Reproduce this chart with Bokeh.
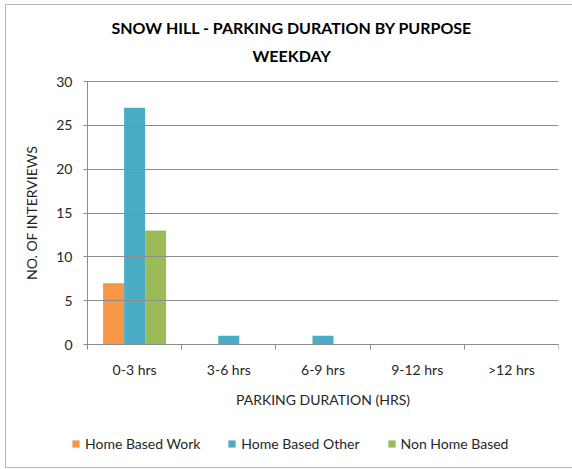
from bokeh.plotting import figure
from bokeh.models import Range1d, FixedTicker, Title, ColumnDataSource, Legend, LegendItem
from bokeh.embed import file_html
from bokeh.resources import INLINE

categories = ["0-3 hrs", "3-6 hrs", "6-9 hrs", "9-12 hrs", ">12 hrs"]
series_names = ["Home Based Work", "Home Based Other", "Non Home Based"]
home_based_work = [7, 0, 0, 0, 0]
home_based_other = [27, 1, 1, 0, 0]
non_home_based = [13, 0, 0, 0, 0]
colors = ["#F79646", "#4BACC6", "#9BBB59"]
y_ticks = [0, 5, 10, 15, 20, 25, 30]
y_max = 30

FONT = "Lato"
TXT = "#262626"
GRID = "#8c8c8c"

# layout (canvas pixels): frame spans the canvas; axes are pinned at x=0 / y=0
W, H = 567, 464
TOP, RIGHT = 65, 15
AXIS_X_PX, AXIS_Y_PX, Y_TOP_PX = 81, 339, 76
frame_w = W - RIGHT
px_x = (frame_w - AXIS_X_PX) / len(categories)
px_y = (AXIS_Y_PX - Y_TOP_PX) / y_max
x_start = -AXIS_X_PX / px_x
y_start = -(H - AXIS_Y_PX) / px_y
y_end = y_max + (Y_TOP_PX - TOP) / px_y

p = figure(width=W, height=H, output_backend="svg", toolbar_location=None,
           x_range=Range1d(x_start, len(categories)), y_range=Range1d(y_start, y_end),
           title="SNOW HILL - PARKING DURATION BY PURPOSE",
           min_border_left=0, min_border_right=RIGHT,
           min_border_top=TOP, min_border_bottom=0)
p.title.align = "left"
p.title.offset = 105
p.title.text_font = FONT
p.title.text_font_size = "16px"
p.title.text_font_style = "bold"
p.title.text_color = "#000000"
p.title.standoff = 3
sub = Title(text="WEEKDAY", align="left", offset=246,
            text_font=FONT, text_font_size="16px", text_font_style="bold",
            text_color="#000000", standoff=11)
p.add_layout(sub, "above")

p.outline_line_color = None
p.xgrid.grid_line_color = None
p.ygrid.grid_line_color = None

bw = 0.223
offsets = [-bw, 0.0, bw]
items = []
for vals, name, col, off in zip([home_based_work, home_based_other, non_home_based],
                                series_names, colors, offsets):
    xs = [i + 0.5 + off for i in range(len(categories))]
    src = ColumnDataSource(dict(x=xs, top=vals))
    r = p.vbar(x="x", top="top", width=bw, bottom=0, source=src, fill_color=col,
               line_color=None)
    items.append(LegendItem(label=name, renderers=[r]))

# x axis
xa = p.xaxis[0]
xa.fixed_location = 0
xa.bounds = (0, len(categories))
xa.ticker = FixedTicker(ticks=[i + 0.5 for i in range(len(categories))],
                        minor_ticks=list(range(len(categories) + 1)))
xa.major_label_overrides = {i + 0.5: c for i, c in enumerate(categories)}
xa.major_tick_line_color = None
xa.major_tick_out = 0
xa.major_tick_in = 0
xa.minor_tick_in = 0
xa.minor_tick_out = 5
xa.minor_tick_line_color = GRID
xa.axis_line_color = GRID
xa.major_label_standoff = 11
xa.major_label_text_font = FONT
xa.major_label_text_font_size = "14px"
xa.major_label_text_color = TXT
xa.axis_label = "PARKING DURATION (HRS)"
xa.axis_label_text_font = FONT
xa.axis_label_text_font_size = "14px"
xa.axis_label_text_font_style = "normal"
xa.axis_label_text_color = TXT
xa.axis_label_standoff = 10

# y axis: its ticks reach across the plot as the horizontal gridlines
ya = p.yaxis[0]
ya.fixed_location = 0
ya.bounds = (0, y_max)
ya.ticker = FixedTicker(ticks=y_ticks)
ya.minor_tick_line_color = None
ya.major_tick_out = 4
ya.major_tick_in = frame_w - AXIS_X_PX
ya.major_tick_line_color = GRID
ya.axis_line_color = GRID
ya.major_label_standoff = 11
ya.major_label_text_font = FONT
ya.major_label_text_font_size = "14px"
ya.major_label_text_color = TXT
ya.axis_label = "NO. OF INTERVIEWS"
ya.axis_label_text_font = FONT
ya.axis_label_text_font_size = "14px"
ya.axis_label_text_font_style = "normal"
ya.axis_label_text_color = TXT
ya.axis_label_standoff = 13

lg = Legend(items=items, orientation="horizontal", location=(65, 17),
            glyph_width=9, glyph_height=9, label_standoff=5, spacing=27,
            padding=0, margin=0, border_line_color=None, background_fill_alpha=0,
            label_text_font=FONT, label_text_font_size="14px",
            label_text_color=TXT, label_height=12)
p.add_layout(lg, "center")

p.styles = {"margin-left": "5px", "margin-top": "4px", "box-sizing": "border-box",
            "border-left": "1px solid #b5b5b5", "border-top": "1px solid #b5b5b5",
            "border-bottom": "1px solid #b5b5b5"}

open("out.html", "w").write(file_html(p, INLINE))
